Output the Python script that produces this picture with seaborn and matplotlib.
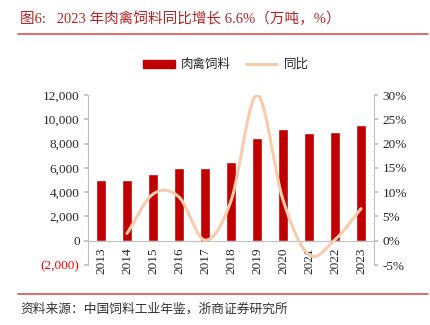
import numpy as np
import pandas as pd
import matplotlib
matplotlib.use("Agg")
import matplotlib.pyplot as plt
import seaborn as sns
from matplotlib.lines import Line2D
from matplotlib.patches import Patch

years = ["2013", "2014", "2015", "2016", "2017", "2018", "2019", "2020", "2021", "2022", "2023"]
feed = [4960, 5033, 5515, 6011, 6015, 6509, 8465, 9176, 8910, 8925, 9510]
yoy = [np.nan, 1.5, 9.6, 9.0, 0.1, 8.2, 30.0, 8.4, -2.9, 0.2, 6.6]
left_ticks = [-2000, 0, 2000, 4000, 6000, 8000, 10000, 12000]
right_ticks = [-5, 0, 5, 10, 15, 20, 25, 30]

title = "图6:   2023 年肉禽饲料同比增长 6.6%（万吨，%）"
source = "资料来源：中国饲料工业年鉴，浙商证券研究所"

sns.set_theme(style="white")
FAM = ["Liberation Serif", "Noto Sans CJK SC", "DejaVu Sans"]
plt.rcParams["font.family"] = FAM

BAR = "#C00000"
LINE = "#F8CBAD"
GRAY = "#BFBFBF"

df = pd.DataFrame({"year": years, "feed": feed})

fig = plt.figure(figsize=(4.31, 3.25), dpi=100)
ax = fig.add_axes([88 / 431, 1 - 265 / 325, (374 - 88) / 431, (265 - 95) / 325])

sns.barplot(data=df, x="year", y="feed", color=BAR, width=0.42, ax=ax, saturation=1)
ax.set_xlim(-0.5, 10.5)
ax.set_ylim(-2000, 12000)
ax.set_yticks(left_ticks)
labs = []
for v in left_ticks:
    labs.append("({:,})".format(-v) if v < 0 else "{:,}".format(v))
ax.set_yticklabels(labs, fontsize=9.5, family=FAM)
ax.get_yticklabels()[0].set_color("#FF0000")
ax.set_xlabel("")
ax.set_ylabel("")

# x-axis at zero
ax.spines["bottom"].set_position(("data", 0))
ax.spines["top"].set_visible(False)
ax.spines["right"].set_visible(False)
for s in ["bottom", "left"]:
    ax.spines[s].set_color(GRAY)
    ax.spines[s].set_linewidth(0.8)
ax.set_xticks(range(len(years)))
ax.set_xticklabels(years, rotation=90, fontsize=9.5, family=FAM)
ax.set_xticks(np.arange(-0.5, 11, 1), minor=True)
ax.tick_params(axis="x", which="major", length=0, pad=5)
ax.tick_params(axis="x", which="minor", length=3, color=GRAY, direction="out")
ax.tick_params(axis="y", length=3, color=GRAY, direction="out", left=True, pad=3)

# secondary axis
ax2 = ax.twinx()
ax2.set_ylim(-5, 30)
ax2.set_yticks(right_ticks)
ax2.set_yticklabels([f"{v}%" for v in right_ticks], fontsize=9.5, family=FAM)
for s in ["top", "left", "bottom"]:
    ax2.spines[s].set_visible(False)
ax2.spines["right"].set_color(GRAY)
ax2.spines["right"].set_linewidth(0.8)
ax2.tick_params(axis="y", length=3, color=GRAY, direction="out", right=True, pad=3)
ax2.grid(False)
ax.grid(False)

# smoothed line (Catmull-Rom through the data points)
xs = np.array([i for i, v in enumerate(yoy) if not np.isnan(v)], dtype=float)
ys = np.array([v for v in yoy if not np.isnan(v)], dtype=float)
px = np.concatenate([[2 * xs[0] - xs[1]], xs, [2 * xs[-1] - xs[-2]]])
py = np.concatenate([[2 * ys[0] - ys[1]], ys, [2 * ys[-1] - ys[-2]]])
cx, cy = [], []
t = np.linspace(0, 1, 30)
for i in range(1, len(px) - 2):
    p0, p1, p2, p3 = px[i - 1], px[i], px[i + 1], px[i + 2]
    q0, q1, q2, q3 = py[i - 1], py[i], py[i + 1], py[i + 2]
    for arr, a0, a1, a2, a3 in ((cx, p0, p1, p2, p3), (cy, q0, q1, q2, q3)):
        arr.extend(0.5 * ((2 * a1) + (-a0 + a2) * t + (2 * a0 - 5 * a1 + 4 * a2 - a3) * t ** 2
                          + (-a0 + 3 * a1 - 3 * a2 + a3) * t ** 3))
sns.lineplot(x=cx, y=cy, ax=ax2, color=LINE, linewidth=2.2, sort=False, estimator=None)

# legend
handles = [Patch(facecolor=BAR, edgecolor=BAR), Line2D([0], [0], color=LINE, lw=2.2)]
fig.legend(handles, ["肉禽饲料", "同比"], loc="center", bbox_to_anchor=(226 / 431, 1 - 65 / 325),
           ncol=2, frameon=False, prop={"family": FAM, "size": 9}, handlelength=2.5,
           handleheight=0.6, columnspacing=1.2, handletextpad=0.5)

# title and source
fig.text(20 / 431, 1 - 19 / 325, title, fontsize=10.5, color="#B22222", va="center", ha="left",
         family=FAM)
fig.add_artist(Line2D([18 / 431, 428 / 431], [1 - 34 / 325] * 2, color="#D9534F", lw=1.2))
fig.add_artist(Line2D([18 / 431, 428 / 431], [1 - 294 / 325] * 2, color="#D9534F", lw=1.2))
fig.text(20 / 431, 1 - 309 / 325, source, fontsize=9.2, color="#333333", va="center", ha="left",
         family=FAM)

fig.savefig("out.png", dpi=100)
